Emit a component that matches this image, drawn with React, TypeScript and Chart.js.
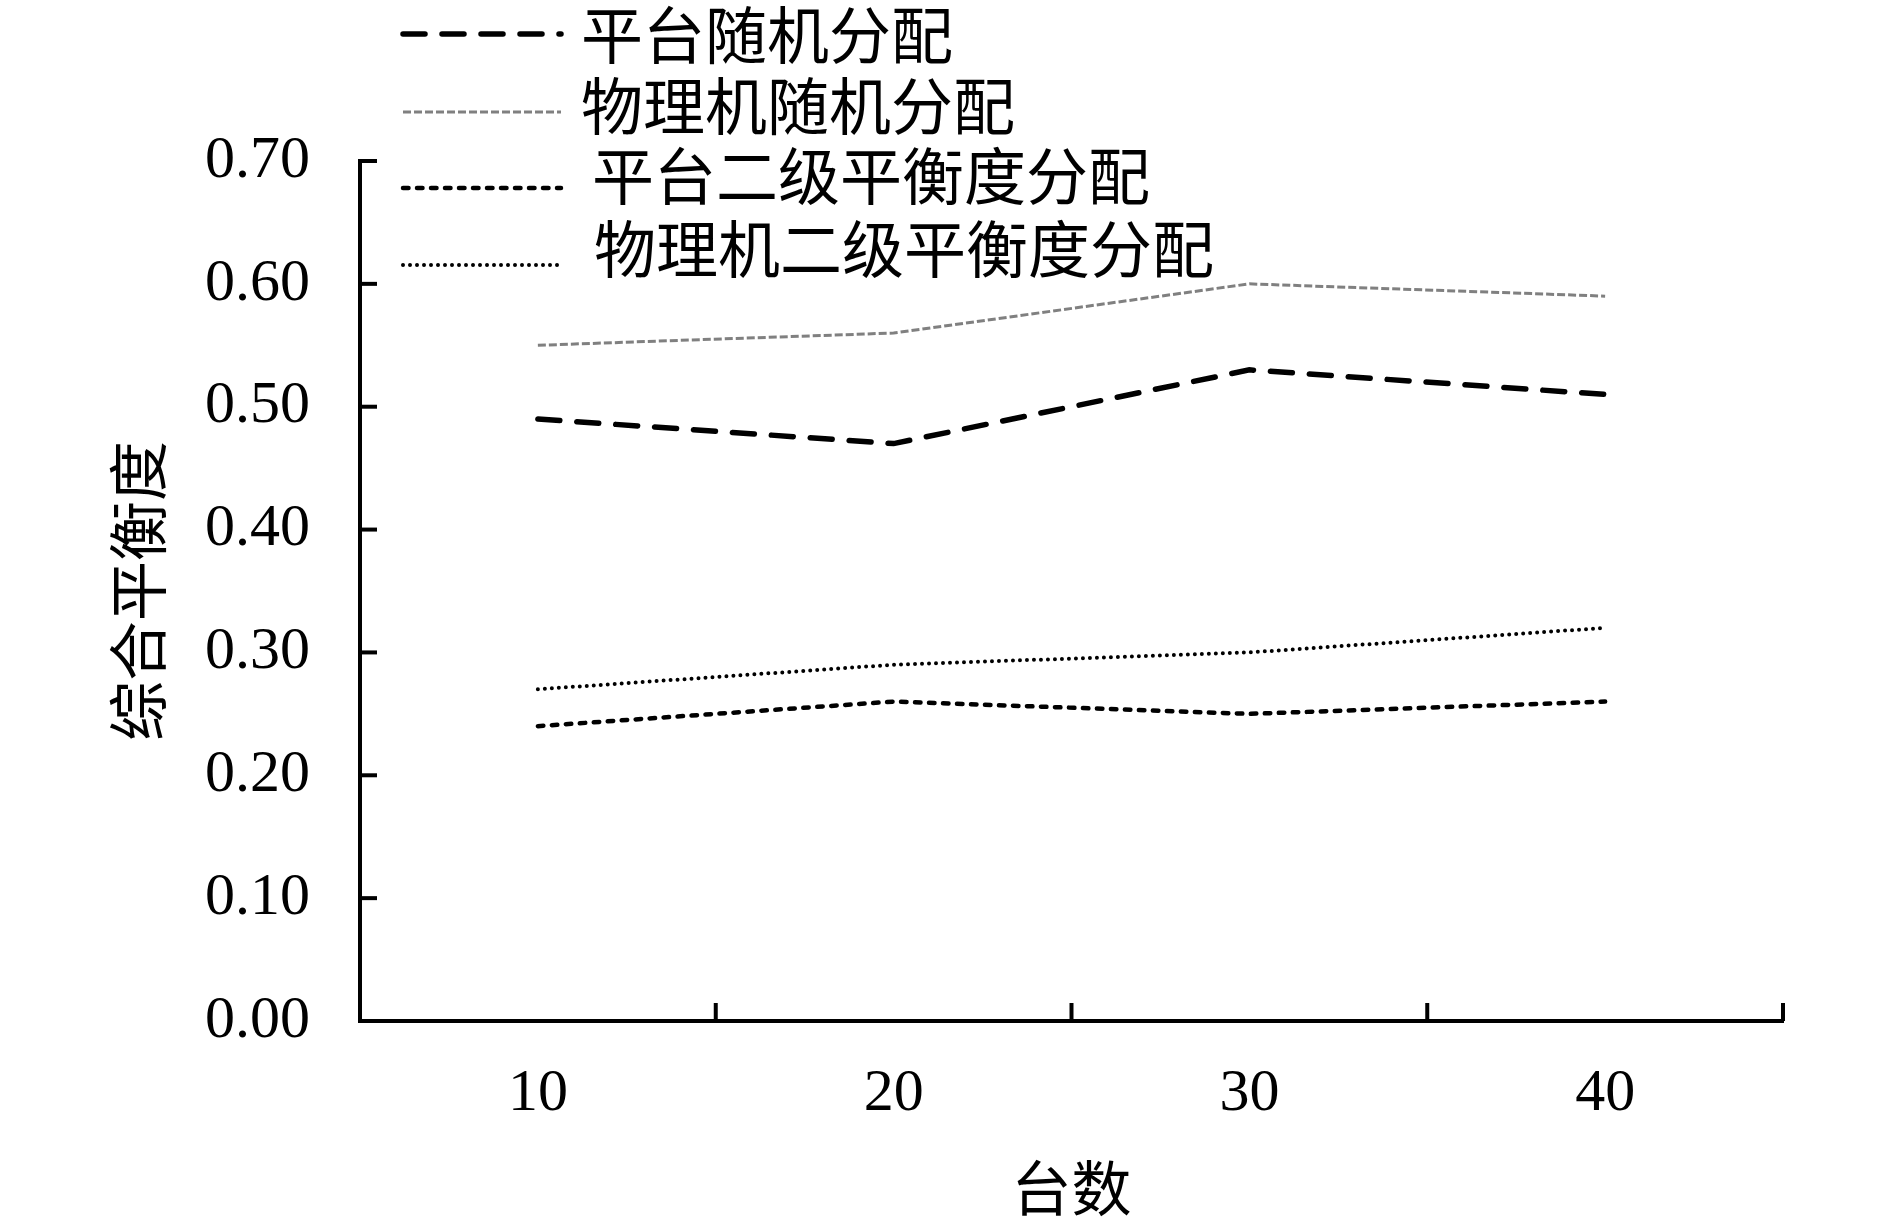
import { useEffect, useRef } from 'react';
import { Chart, registerables } from 'chart.js';

Chart.register(...registerables);

// data
const categories = ['10', '20', '30', '40'];
const seriesNames = ['平台随机分配', '物理机随机分配', '平台二级平衡度分配', '物理机二级平衡度分配'];
const platformRandom = [0.49, 0.47, 0.53, 0.51];
const hostRandom = [0.55, 0.56, 0.6, 0.59];
const platformTwoLevel = [0.24, 0.26, 0.25, 0.26];
const hostTwoLevel = [0.27, 0.29, 0.3, 0.32];
const yMin = 0;
const yMax = 0.7;
const yStep = 0.1;

const SERIF = '"Liberation Serif", "Times New Roman", "Noto Sans CJK SC", serif';

// inward tick marks + custom legend drawn on top of the plot
const decorPlugin = {
  id: 'decor',
  afterDraw(chart: any) {
    const { ctx, chartArea, scales } = chart;
    const x = scales.x;
    const y = scales.y;
    ctx.save();
    ctx.strokeStyle = '#000';
    ctx.lineWidth = 4;
    ctx.setLineDash([]);
    ctx.lineCap = 'butt';
    // y ticks, pointing into the plot
    for (let v = yMin; v <= yMax + 1e-9; v += yStep) {
      const py = y.getPixelForValue(v);
      ctx.beginPath();
      ctx.moveTo(chartArea.left, py);
      ctx.lineTo(chartArea.left + 17, py);
      ctx.stroke();
    }
    // x ticks between categories
    for (let i = 0; i <= categories.length; i++) {
      const px = x.getPixelForValue(i - 0.5);
      ctx.beginPath();
      ctx.moveTo(px, chartArea.bottom);
      ctx.lineTo(px, chartArea.bottom - 18);
      ctx.stroke();
    }

    // legend
    const lineY = [34, 112, 188, 265];
    const textY = [43, 114, 184, 257];
    const textX = [581, 581, 592, 594];
    chart.data.datasets.forEach((ds: any, i: number) => {
      ctx.save();
      ctx.strokeStyle = ds.borderColor;
      ctx.lineWidth = ds.borderWidth;
      ctx.lineCap = ds.borderCapStyle || 'butt';
      ctx.setLineDash(ds.borderDash || []);
      ctx.beginPath();
      ctx.moveTo(403, lineY[i]);
      ctx.lineTo(561, lineY[i]);
      ctx.stroke();
      ctx.restore();
      ctx.fillStyle = '#000';
      ctx.font = `62px ${SERIF}`;
      ctx.textBaseline = 'middle';
      ctx.textAlign = 'left';
      ctx.fillText(ds.label, textX[i], textY[i]);
    });
    ctx.restore();
  },
};

export default function App() {
  const chartRef = useRef<HTMLCanvasElement>(null);
  const chartInstance = useRef<Chart | null>(null);

  useEffect(() => {
    document.body.style.margin = '0';
    if (!chartRef.current) return;
    if (chartInstance.current) {
      chartInstance.current.destroy();
    }
    const ctx = chartRef.current.getContext('2d');
    if (!ctx) return;

    chartInstance.current = new Chart(ctx, {
      type: 'line',
      data: {
        labels: categories,
        datasets: [
          {
            label: seriesNames[0],
            data: platformRandom,
            borderColor: '#000',
            borderWidth: 5.5,
            borderDash: [22, 17],
            borderCapStyle: 'round',
          },
          {
            label: seriesNames[1],
            data: hostRandom,
            borderColor: '#808080',
            borderWidth: 3,
            borderDash: [8, 3],
            borderCapStyle: 'butt',
          },
          {
            label: seriesNames[2],
            data: platformTwoLevel,
            borderColor: '#000',
            borderWidth: 4.5,
            borderDash: [5.5, 8.5],
            borderCapStyle: 'round',
          },
          {
            label: seriesNames[3],
            data: hostTwoLevel,
            borderColor: '#000',
            borderWidth: 4,
            borderDash: [0, 7],
            borderCapStyle: 'round',
          },
        ],
      },
      options: {
        responsive: true,
        maintainAspectRatio: false,
        animation: false,
        devicePixelRatio: 1,
        elements: {
          point: { radius: 0, hoverRadius: 0 },
          line: { tension: 0, fill: false },
        },
        layout: {
          padding: { top: 161, right: 107, left: 109, bottom: 0 },
        },
        plugins: {
          legend: { display: false },
          tooltip: { enabled: false },
        },
        scales: {
          x: {
            offset: true,
            grid: { display: true, drawOnChartArea: false, drawTicks: false },
            border: { display: true, color: '#000', width: 4 },
            ticks: {
              color: '#000',
              font: { family: SERIF, size: 60 },
              padding: 37,
              maxRotation: 0,
              autoSkip: false,
            },
            title: {
              display: true,
              text: '台数',
              color: '#000',
              font: { family: SERIF, size: 60, lineHeight: 0.95 },
              padding: 0,
            },
            afterFit: (scale: any) => {
              scale.height = 203;
            },
          },
          y: {
            min: yMin,
            max: yMax,
            grid: { display: true, drawOnChartArea: false, drawTicks: false },
            border: { display: true, color: '#000', width: 4 },
            ticks: {
              stepSize: yStep,
              color: '#000',
              font: { family: SERIF, size: 60 },
              padding: 50,
              autoSkip: false,
              callback: (v: any) => Number(v).toFixed(2),
            },
            title: {
              display: true,
              text: '综合平衡度',
              color: '#000',
              font: { family: SERIF, size: 60 },
              padding: 0,
            },
            afterFit: (scale: any) => {
              scale.width = 251;
            },
          },
        },
      },
      plugins: [decorPlugin],
    });

    return () => {
      if (chartInstance.current) {
        chartInstance.current.destroy();
        chartInstance.current = null;
      }
    };
  }, []);

  return (
    <div style={{ position: 'relative', width: '1890px', height: '1224px', background: '#fff' }}>
      <canvas ref={chartRef} />
    </div>
  );
}
